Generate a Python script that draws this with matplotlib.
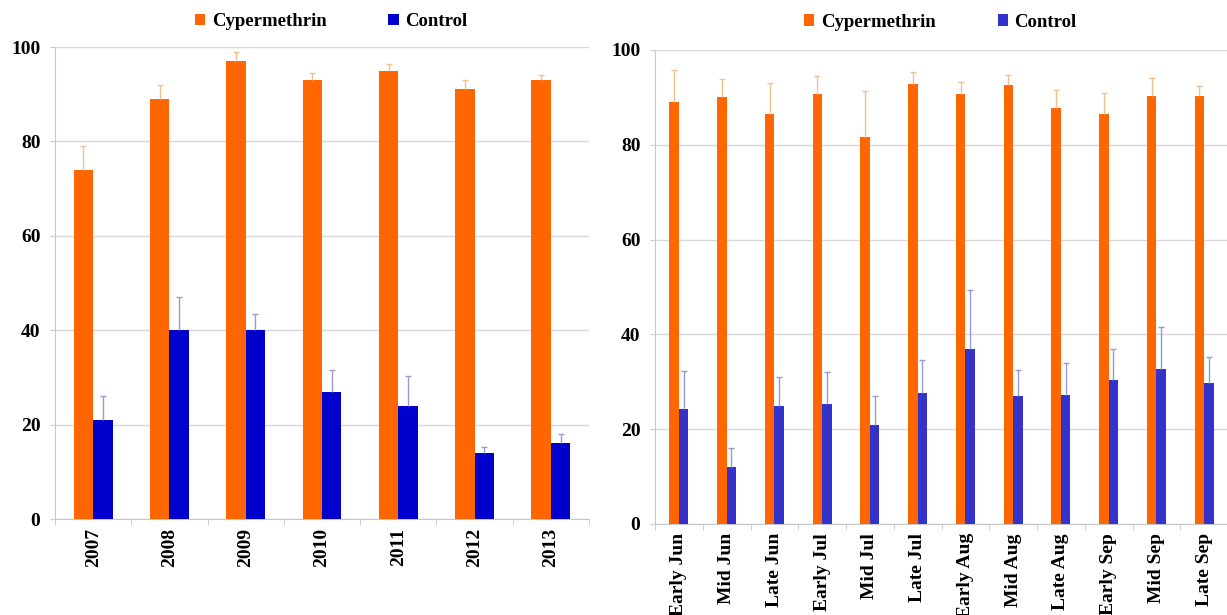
import numpy as np
import matplotlib
matplotlib.use("Agg")
import matplotlib.pyplot as plt

plt.rcParams["font.family"] = ["Liberation Serif", "DejaVu Serif"]
plt.rcParams["font.weight"] = "bold"

# left panel: by year
years = ["2007", "2008", "2009", "2010", "2011", "2012", "2013"]
cyp_year = [74, 89, 97, 93, 95, 91, 93]
cyp_year_err = [5, 3, 2, 1.5, 1.5, 2, 1]
ctl_year = [21, 40, 40, 27, 24, 14, 16]
ctl_year_err = [5, 7, 3.5, 4.6, 6.3, 1.3, 2]

# right panel: by ten-day period
periods = ["Early Jun", "Mid Jun", "Late Jun", "Early Jul", "Mid Jul", "Late Jul",
           "Early Aug", "Mid Aug", "Late Aug", "Early Sep", "Mid Sep", "Late Sep"]
cyp_per = [89.0, 90.0, 86.5, 90.7, 81.6, 92.9, 90.7, 92.7, 87.8, 86.5, 90.4, 90.4]
cyp_per_err = [6.8, 3.8, 6.5, 3.8, 9.8, 2.4, 2.6, 2.0, 3.8, 4.4, 3.6, 1.9]
ctl_per = [24.2, 12.0, 25.0, 25.3, 20.9, 27.7, 37.0, 26.9, 27.3, 30.4, 32.7, 29.8]
ctl_per_err = [8.1, 4.0, 6.1, 6.8, 6.1, 6.9, 12.4, 5.6, 6.7, 6.6, 8.8, 5.4]

W, H = 1227, 615
fig = plt.figure(figsize=(W / 100, H / 100), dpi=100)


def upper_err(ax, xs, vals, err, color):
    # only the plus side, like the Excel original
    tops = np.array(vals) + np.array(err)
    ax.vlines(xs, vals, tops, color=color, linewidth=1, zorder=4)
    ax.plot(xs, tops, linestyle="none", marker="_", markersize=4, markeredgewidth=1,
            color=color, zorder=4)


def panel(rect, labels, cyp, cyp_err, ctl, ctl_err, width, blue, legx, legy):
    ax = fig.add_axes(rect)
    x = np.arange(len(labels))
    ax.bar(x - width / 2, cyp, width, color="#FF6600", label="Cypermethrin", zorder=3)
    ax.bar(x + width / 2, ctl, width, color=blue, label="Control", zorder=3)
    upper_err(ax, x - width / 2, cyp, cyp_err, "#F2C08F")
    upper_err(ax, x + width / 2, ctl, ctl_err, "#9A9AD0")
    ax.set_xlim(-0.5, len(labels) - 0.5)
    ax.set_ylim(0, 100)
    ax.set_yticks([0, 20, 40, 60, 80, 100])
    ax.grid(True, axis="y", color="#D9D9D9", linewidth=1, zorder=0)
    ax.set_axisbelow(True)
    for s in ["top", "right"]:
        ax.spines[s].set_visible(False)
    for s in ["left", "bottom"]:
        ax.spines[s].set_color("#C8C8C8")
    ax.set_xticks(x)
    ax.set_xticklabels(labels, rotation=90, fontsize=14, fontweight="bold")
    ax.set_xticks(np.arange(len(labels) + 1) - 0.5, minor=True)
    ax.tick_params(axis="x", which="major", length=0, pad=6.5)
    ax.tick_params(axis="x", which="minor", length=4.5, color="#C8C8C8", direction="out")
    ax.tick_params(axis="y", length=3.5, color="#C8C8C8", pad=7, labelsize=14)
    for t in ax.get_yticklabels():
        t.set_fontweight("bold")
    ax.legend(loc="center", bbox_to_anchor=(legx, legy), ncol=2, frameon=False,
              handlelength=0.55, handleheight=0.55, handletextpad=0.35,
              columnspacing=3.3, prop=dict(weight="bold", size=13.5))
    return ax


panel([55 / W, 1 - 519 / H, 534 / W, 472 / H], years, cyp_year, cyp_year_err,
      ctl_year, ctl_year_err, 0.255, "#0000CC", 0.517, 1.053)
panel([655 / W, 1 - 524 / H, 573 / W, 474 / H], periods, cyp_per, cyp_per_err,
      ctl_per, ctl_per_err, 0.2, "#3333CC", 0.498, 1.059)

fig.savefig("out.png", dpi=100)
